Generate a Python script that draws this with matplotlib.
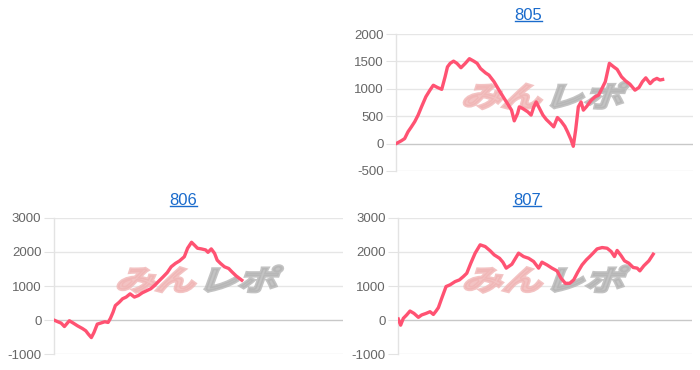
import numpy as np
import matplotlib
matplotlib.use("Agg")
import matplotlib.pyplot as plt
from matplotlib.textpath import TextPath
from matplotlib.patches import PathPatch
from matplotlib.font_manager import FontProperties
from matplotlib.lines import Line2D
import matplotlib.transforms as mtransforms

plt.rcParams['font.family'] = ['Liberation Sans', 'DejaVu Sans']

# games (x) and difference in medals (y)
x805 = [0, 150, 250, 350, 450, 550, 650, 750, 880, 1000, 1100, 1220, 1350, 1450, 1520, 1600, 1700,
        1800, 1920, 2050, 2170, 2300, 2400, 2500, 2650, 2750, 2900, 3050, 3200, 3300, 3420, 3500,
        3600, 3650, 3750, 3900, 4000, 4080, 4150, 4250, 4350, 4450, 4550, 4670, 4780, 4880, 5000,
        5080, 5180, 5250, 5320, 5400, 5480, 5550, 5650, 5780, 5900, 6000, 6100, 6200, 6320, 6450,
        6550, 6680, 6800, 6930, 7080, 7200, 7300, 7400, 7530, 7630, 7730, 7820, 7900]
y805 = [0, 50, 90, 215, 305, 400, 520, 670, 855, 975, 1065, 1025, 990, 1220, 1400, 1465, 1505,
        1465, 1385, 1465, 1550, 1505, 1465, 1370, 1290, 1250, 1130, 975, 825, 730, 610, 415,
        550, 670, 640, 580, 520, 670, 760, 640, 520, 440, 380, 305, 475, 415, 315,
        215, 75, -50, 245, 670, 760, 610, 680, 790, 855, 885, 1005, 1130, 1465, 1400,
        1355, 1220, 1145, 1085, 975, 1025, 1130, 1200, 1095, 1160, 1190, 1160, 1170]

x806 = [0, 120, 220, 320, 470, 590, 720, 870, 970, 1050, 1140, 1220, 1320, 1420, 1550, 1650, 1720,
        1800, 1870, 1990, 2090, 2200, 2320, 2450, 2570, 2690, 2820, 2950, 3070, 3190, 3320, 3450,
        3570, 3700, 3820, 3970, 4070, 4190, 4290, 4370, 4490, 4620, 4690, 4790, 4890, 4970,
        5070, 5190, 5320, 5420, 5550, 5720]
y806 = [0, -50, -90, -190, -20, -90, -170, -250, -315, -415, -515, -365, -120, -90, -50, -70, 50,
        230, 425, 525, 625, 675, 770, 675, 720, 800, 860, 920, 1020, 1140, 1265, 1395,
        1565, 1665, 1735, 1860, 2110, 2285, 2190, 2110, 2090, 2060, 1990, 2090, 1960, 1760,
        1665, 1565, 1515, 1415, 1295, 1170]

x807 = [0, 70, 150, 250, 350, 470, 600, 700, 830, 950, 1050, 1130, 1200, 1300, 1430, 1550, 1700,
        1830, 1950, 2050, 2170, 2300, 2450, 2600, 2750, 2870, 3030, 3130, 3230, 3400, 3600, 3750,
        3900, 4050, 4200, 4300, 4450, 4600, 4750, 4870, 5000, 5130, 5250, 5370, 5500, 5630,
        5730, 5830, 5950, 6100, 6250, 6370, 6470, 6550, 6670, 6770, 6900, 7030, 7150, 7230,
        7350, 7500, 7630]
y807 = [30, -150, 50, 150, 265, 195, 80, 150, 195, 245, 165, 265, 365, 640, 985, 1035, 1130,
        1180, 1280, 1375, 1670, 1965, 2210, 2160, 2035, 1915, 1815, 1700, 1525, 1640, 1965, 1865,
        1815, 1720, 1525, 1700, 1620, 1525, 1445, 1230, 1080, 1080, 1180, 1405, 1620, 1770,
        1865, 1965, 2090, 2130, 2110, 2015, 1865, 2045, 1890, 1740, 1670, 1545, 1525, 1445,
        1595, 1740, 1935]

titles = ["805", "806", "807"]
ticks805 = [-500, 0, 500, 1000, 1500, 2000]
ticks80x = [-1000, 0, 1000, 2000, 3000]

line_color = "#ff5272"
title_color = "#1a6bcc"

fig = plt.figure(figsize=(7, 3.7), dpi=100)

def watermark(ax):
    # site logo behind the line, two colours, slanted and heavy
    fp = FontProperties(family="Noto Sans CJK JP", weight="bold")
    for txt, col, dx in [("みん", "#f0b4b4", 0), ("レポ", "#b4b4b4", 66)]:
        p = TextPath((0, 0), txt, size=32, prop=fp)
        tr = (mtransforms.Affine2D().translate(dx, 0).scale(1.25, 0.88).skew_deg(20, 0)
              .translate(-84, -11)
              + mtransforms.ScaledTranslation(0.5, 0.55, ax.transAxes))
        ax.add_patch(PathPatch(p, transform=tr, facecolor=col, edgecolor=col, lw=2.2,
                               alpha=0.8, zorder=1, clip_on=False))

def panel(rect, xs, ys, ticks):
    ax = fig.add_axes(rect)
    ax.plot(xs, ys, color=line_color, lw=2.4, zorder=3, solid_joinstyle="round")
    ax.set_xlim(0, 8800)
    ax.set_ylim(ticks[0], ticks[-1])
    ax.set_yticks(ticks)
    ax.set_yticklabels([str(t) for t in ticks])
    ax.set_xticks([])
    for s in ["top", "right", "bottom"]:
        ax.spines[s].set_visible(False)
    ax.spines["left"].set_color("#e3e3e3")
    ax.spines["left"].set_linewidth(1.0)
    ax.tick_params(axis="y", length=7, color="#e3e3e3", labelcolor="#666666",
                   labelsize=9.5, pad=2)
    for t in ticks:
        ax.axhline(t, color="#c8c8c8" if t == 0 else "#e6e6e6", lw=1.0, zorder=0)
    watermark(ax)
    return ax

panel([0.566, 0.538, 0.424, 0.370], x805, y805, ticks805)
panel([0.077, 0.043, 0.413, 0.368], x806, y806, ticks80x)
panel([0.569, 0.043, 0.420, 0.368], x807, y807, ticks80x)

tt = []
for name, (tx, ty) in zip(titles, [(0.755, 0.958), (0.262, 0.458), (0.753, 0.458)]):
    tt.append(fig.text(tx, ty, name, color=title_color, fontsize=12, ha="center", va="center"))

# underline the titles like links
fig.canvas.draw()
r = fig.canvas.get_renderer()
for t in tt:
    bb = t.get_window_extent(r).transformed(fig.transFigure.inverted())
    fig.add_artist(Line2D([bb.x0, bb.x1], [bb.y0 + 0.005, bb.y0 + 0.005],
                          color=title_color, lw=1.0, transform=fig.transFigure))

fig.savefig("out.png", dpi=100)
